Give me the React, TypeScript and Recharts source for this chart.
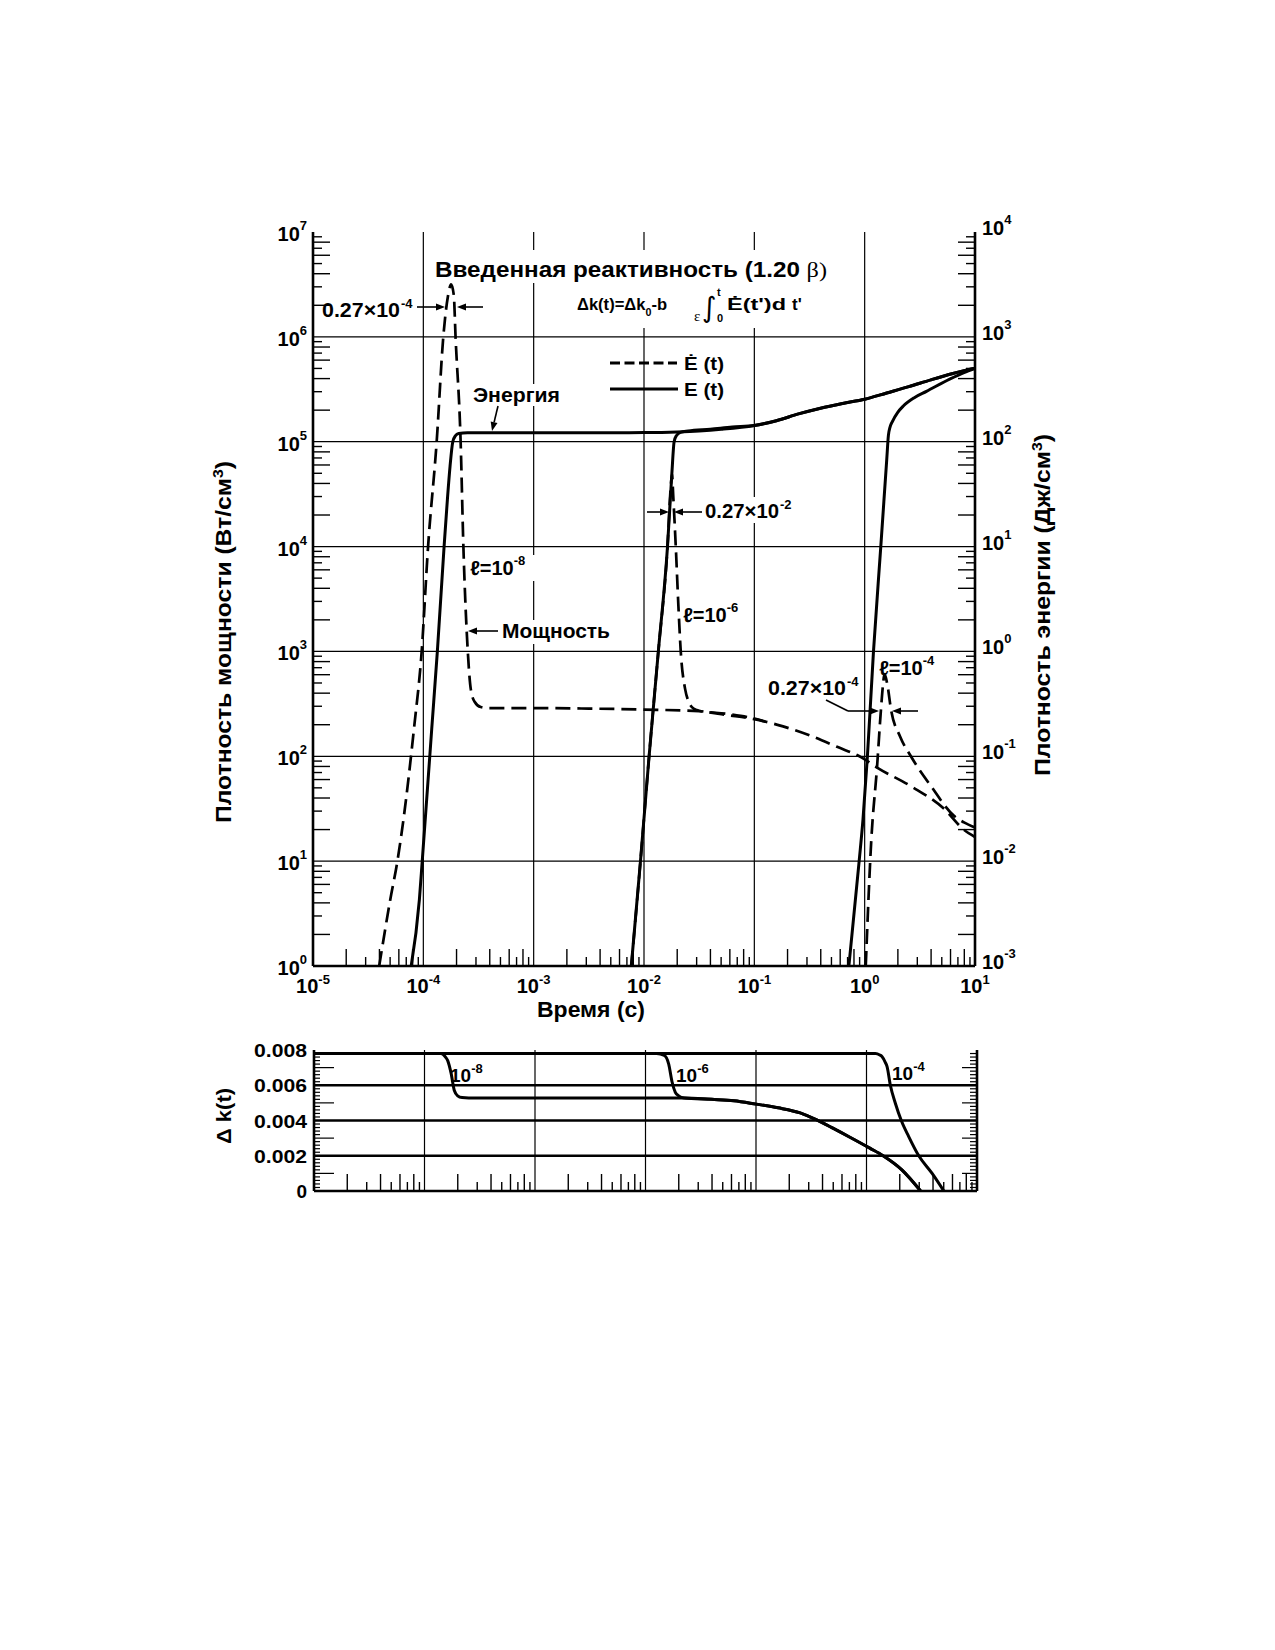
import React from 'react';
import { ComposedChart, LineChart, Line, XAxis, YAxis, ReferenceLine } from 'recharts';

const FONT = '"Liberation Sans", Arial, Helvetica, sans-serif';
const SERIF = '"Liberation Serif", "Times New Roman", serif';

// ---------- axis definitions ----------
const timeDecades = [1e-5, 1e-4, 1e-3, 1e-2, 1e-1, 1, 10];
const powerDecades = [1, 10, 100, 1e3, 1e4, 1e5, 1e6, 1e7];
const energyDecades = [1e-3, 1e-2, 1e-1, 1, 10, 100, 1e3, 1e4];
const minorMultipliers = [2, 3, 4, 5, 6, 7, 8, 9];
const timeGrid = [1e-4, 1e-3, 1e-2, 1e-1, 1];
const powerGrid = [10, 100, 1e3, 1e4, 1e5, 1e6];
const dkGrid = [0.002, 0.004, 0.006];
const dkStep = 0.0002;
const dkMax = 0.008;

// ---------- power density, W/cm3 (dashed) ----------
const powerL8 = [
  { t: 3.98e-5, v: 1 }, { t: 5.01e-5, v: 4.27 }, { t: 5.82e-5, v: 10 }, { t: 6.61e-5, v: 25.1 },
  { t: 8.22e-5, v: 182 }, { t: 9.66e-5, v: 1000 }, { t: 1.104e-4, v: 1e4 }, { t: 1.321e-4, v: 1e5 },
  { t: 1.517e-4, v: 1e6 }, { t: 1.667e-4, v: 2.4e6 }, { t: 1.786e-4, v: 3.16e6 }, { t: 1.888e-4, v: 2.51e6 },
  { t: 1.959e-4, v: 1e6 }, { t: 2.178e-4, v: 1e5 }, { t: 2.307e-4, v: 1e4 }, { t: 2.529e-4, v: 1000 },
  { t: 2.692e-4, v: 437 }, { t: 2.917e-4, v: 331 }, { t: 3.311e-4, v: 295 }, { t: 3.981e-4, v: 288 },
  { t: 1e-3, v: 288 }, { t: 3.162e-3, v: 285 }, { t: 1e-2, v: 279 }, { t: 3.162e-2, v: 269 },
  { t: 5.623e-2, v: 247 }, { t: 0.1, v: 226 }, { t: 0.1622, v: 199.5 }, { t: 0.3162, v: 158.5 },
  { t: 0.5623, v: 123 }, { t: 0.9333, v: 97.7 }, { t: 1.306, v: 77.6 }, { t: 2.606, v: 52.1 },
  { t: 5.26, v: 31.5 }, { t: 7.98, v: 19.8 }, { t: 10, v: 17 },
];
const powerL6 = [
  { t: 7.674e-3, v: 1 }, { t: 9.29e-3, v: 10 }, { t: 1.112e-2, v: 100 }, { t: 1.349e-2, v: 1000 },
  { t: 1.633e-2, v: 1e4 }, { t: 1.75e-2, v: 3.8e4 }, { t: 1.795e-2, v: 4.9e4 }, { t: 1.837e-2, v: 3.16e4 },
  { t: 1.941e-2, v: 1e4 }, { t: 2.051e-2, v: 2692 }, { t: 2.153e-2, v: 1000 }, { t: 2.36e-2, v: 437 },
  { t: 2.541e-2, v: 331 }, { t: 2.818e-2, v: 285 }, { t: 3.162e-2, v: 272 }, { t: 5.623e-2, v: 254 },
  { t: 0.1, v: 229 }, { t: 0.1259, v: 214 },
];
const powerL4 = [
  { t: 1.023, v: 1 }, { t: 1.148, v: 15.8 }, { t: 1.294, v: 78.5 }, { t: 1.406, v: 282 },
  { t: 1.472, v: 501 }, { t: 1.507, v: 603 }, { t: 1.556, v: 562 }, { t: 1.614, v: 468 },
  { t: 1.73, v: 282 }, { t: 2.089, v: 155 }, { t: 2.624, v: 100 }, { t: 3.981, v: 52.1 },
  { t: 6.486, v: 26.9 }, { t: 7.943, v: 23.4 }, { t: 10, v: 20.9 },
];

// ---------- energy density, J/cm3 (solid) ----------
const energyL8 = [
  { t: 7.762e-5, v: 0.001 }, { t: 9.204e-5, v: 0.00427 }, { t: 9.772e-5, v: 0.01 }, { t: 1.191e-4, v: 0.181 },
  { t: 1.34e-4, v: 1.0 }, { t: 1.542e-4, v: 10 }, { t: 1.652e-4, v: 28.1 }, { t: 1.746e-4, v: 58.2 },
  { t: 1.849e-4, v: 100 }, { t: 1.95e-4, v: 113.5 }, { t: 2.089e-4, v: 119.7 }, { t: 2.512e-4, v: 121.6 },
  { t: 1e-3, v: 121.6 }, { t: 3.162e-3, v: 121.6 }, { t: 1e-2, v: 122.2 }, { t: 1.995e-2, v: 123.9 },
  { t: 3.162e-2, v: 126.5 }, { t: 5.012e-2, v: 131.2 }, { t: 0.1, v: 142.9 }, { t: 0.1585, v: 158.5 },
  { t: 0.2512, v: 184.1 }, { t: 0.3981, v: 208.9 }, { t: 0.631, v: 231.7 }, { t: 1, v: 254.1 },
  { t: 1.585, v: 291.7 }, { t: 2.512, v: 335 }, { t: 3.981, v: 389 }, { t: 6.31, v: 446.7 },
  { t: 10, v: 501 },
];
const energyL6 = [
  { t: 7.674e-3, v: 0.001 }, { t: 9.29e-3, v: 0.01 }, { t: 1.112e-2, v: 0.1 }, { t: 1.349e-2, v: 1.0 },
  { t: 1.633e-2, v: 10 }, { t: 1.786e-2, v: 48.5 }, { t: 1.875e-2, v: 100 }, { t: 1.972e-2, v: 114.8 },
  { t: 2.138e-2, v: 123 }, { t: 2.512e-2, v: 126.8 }, { t: 3.981e-2, v: 131.8 }, { t: 6.31e-2, v: 138 },
  { t: 0.1, v: 142.9 }, { t: 0.1585, v: 158.5 }, { t: 0.2512, v: 184.1 }, { t: 0.3981, v: 208.9 },
  { t: 0.631, v: 231.7 }, { t: 1, v: 254.1 }, { t: 1.585, v: 291.7 }, { t: 2.512, v: 335 },
  { t: 3.981, v: 389 }, { t: 6.31, v: 446.7 }, { t: 10, v: 501 },
];
const energyL4 = [
  { t: 0.7194, v: 0.001 }, { t: 0.8913, v: 0.01 }, { t: 0.9661, v: 0.0251 }, { t: 1.059, v: 0.1 },
  { t: 1.202, v: 1.0 }, { t: 1.4, v: 10 }, { t: 1.585, v: 67.6 }, { t: 1.641, v: 114.8 },
  { t: 1.698, v: 138 }, { t: 1.778, v: 154.9 }, { t: 1.995, v: 190.5 }, { t: 2.239, v: 218.8 },
  { t: 2.818, v: 263 }, { t: 3.631, v: 302 }, { t: 5.957, v: 398 }, { t: 7.943, v: 457 },
  { t: 10, v: 501 },
];

// ---------- reactivity Δk(t) ----------
const dkL8 = [
  { t: 1e-5, v: 0.0078 }, { t: 1.413e-4, v: 0.0078 }, { t: 1.549e-4, v: 0.0076 }, { t: 1.622e-4, v: 0.0074 },
  { t: 1.738e-4, v: 0.0067 }, { t: 1.862e-4, v: 0.0057 }, { t: 1.995e-4, v: 0.0054 }, { t: 2.188e-4, v: 0.0053 },
  { t: 2.512e-4, v: 0.00528 }, { t: 1e-2, v: 0.00528 }, { t: 2.239e-2, v: 0.00528 }, { t: 3.981e-2, v: 0.0052 },
  { t: 6.31e-2, v: 0.00512 }, { t: 0.1, v: 0.00493 }, { t: 0.1585, v: 0.00472 }, { t: 0.2512, v: 0.00443 },
  { t: 0.3548, v: 0.00403 }, { t: 0.5012, v: 0.00355 }, { t: 0.7079, v: 0.00305 }, { t: 1.072, v: 0.00243 },
  { t: 1.413, v: 0.002 }, { t: 2.089, v: 0.0012 }, { t: 3.09, v: 0 },
];
const dkL6 = [
  { t: 1e-5, v: 0.0078 }, { t: 1.259e-2, v: 0.0078 }, { t: 1.479e-2, v: 0.0077 }, { t: 1.622e-2, v: 0.0072 },
  { t: 1.738e-2, v: 0.0062 }, { t: 1.862e-2, v: 0.0056 }, { t: 1.995e-2, v: 0.0054 }, { t: 2.239e-2, v: 0.00528 },
  { t: 3.981e-2, v: 0.0052 }, { t: 6.31e-2, v: 0.00512 }, { t: 0.1, v: 0.00493 }, { t: 0.1585, v: 0.00472 },
  { t: 0.2512, v: 0.00443 }, { t: 0.3548, v: 0.00403 }, { t: 0.5012, v: 0.00355 }, { t: 0.7079, v: 0.00305 },
  { t: 1.072, v: 0.00243 }, { t: 1.413, v: 0.002 }, { t: 2.089, v: 0.0012 }, { t: 3.09, v: 0 },
];
const dkL4 = [
  { t: 1e-5, v: 0.0078 }, { t: 1.202, v: 0.0078 }, { t: 1.318, v: 0.00772 }, { t: 1.38, v: 0.00763 },
  { t: 1.479, v: 0.0073 }, { t: 1.535, v: 0.00706 }, { t: 1.644, v: 0.006 }, { t: 1.824, v: 0.00498 },
  { t: 2.065, v: 0.004 }, { t: 2.41, v: 0.00309 }, { t: 2.972, v: 0.002 }, { t: 3.926, v: 0.001 },
  { t: 5.012, v: 0 },
];

// ---------- helpers ----------
function withMinors(decades: number[]) {
  const out: number[] = [];
  decades.forEach((d, i) => {
    out.push(d);
    if (i < decades.length - 1) minorMultipliers.forEach((m) => out.push(m * d));
  });
  return out;
}
function logInfo(v: number) {
  const lg = Math.log10(v);
  const e = Math.round(lg);
  if (Math.abs(lg - e) < 1e-6) return { decade: true, exp: e, mult: 1 };
  const base = Math.floor(lg + 1e-9);
  return { decade: false, exp: base, mult: Math.round(v / Math.pow(10, base)) };
}
const expStr = (e: number) => (e < 0 ? '-' + Math.abs(e) : String(e));
const minorLen = (m: number) => (m % 2 === 0 ? 17 : 9);

const timeTicks = withMinors(timeDecades);
const timeMinorTicks = timeTicks.filter((v) => !logInfo(v).decade);
const powerTicks = withMinors(powerDecades);
const energyTicks = withMinors(energyDecades);
const dkTicks = Array.from({ length: Math.round(dkMax / dkStep) + 1 }, (_, i) => Number((i * dkStep).toFixed(4)));

const TXT = { fontFamily: FONT, fontWeight: 700, fill: '#000' } as const;
const TICK_W = 1.4;

const MainBottomTick = (p: any) => {
  const { x, y, payload } = p;
  const info = logInfo(payload.value);
  if (info.decade) {
    return (
      <text x={x} y={y + 27} textAnchor="middle" fontSize={20} {...TXT}>
        10<tspan fontSize={13} dy={-9}>{expStr(info.exp)}</tspan>
      </text>
    );
  }
  return <line x1={x} y1={y} x2={x} y2={y - minorLen(info.mult)} stroke="#000" strokeWidth={TICK_W} />;
};
const TopTick = (p: any) => {
  const { x, y, payload } = p;
  const info = logInfo(payload.value);
  if (info.decade) return <g />;
  return <line x1={x} y1={y} x2={x} y2={y + minorLen(info.mult)} stroke="#000" strokeWidth={TICK_W} />;
};
const SubBottomTick = (p: any) => {
  const { x, y, payload } = p;
  const info = logInfo(payload.value);
  if (info.decade) return <g />;
  return <line x1={x} y1={y} x2={x} y2={y - minorLen(info.mult)} stroke="#000" strokeWidth={TICK_W} />;
};
const MainLeftTick = (p: any) => {
  const { x, y, payload } = p;
  const info = logInfo(payload.value);
  if (info.decade) {
    return (
      <text x={x - 6} y={y + 9} textAnchor="end" fontSize={20} {...TXT}>
        10<tspan fontSize={13} dy={-11}>{expStr(info.exp)}</tspan>
      </text>
    );
  }
  return <line x1={x} y1={y} x2={x + minorLen(info.mult)} y2={y} stroke="#000" strokeWidth={TICK_W} />;
};
const MainRightTick = (p: any) => {
  const { x, y, payload } = p;
  const info = logInfo(payload.value);
  if (info.decade) {
    return (
      <text x={x + 7} y={y + 3} textAnchor="start" fontSize={20} {...TXT}>
        10<tspan fontSize={13} dy={-11}>{expStr(info.exp)}</tspan>
      </text>
    );
  }
  return <line x1={x} y1={y} x2={x - minorLen(info.mult)} y2={y} stroke="#000" strokeWidth={TICK_W} />;
};
const SubLeftTick = (p: any) => {
  const { x, y, payload } = p;
  const i = Math.round(payload.value / dkStep);
  if (i % 10 === 0) {
    if (payload.value === 0) {
      return (
        <text x={x - 7} y={y + 7} textAnchor="end" fontSize={19} {...TXT}>
          0
        </text>
      );
    }
    return (
      <text x={x - 60} y={y + 7} fontSize={19} {...TXT} textLength={53} lengthAdjust="spacingAndGlyphs">
        {payload.value.toFixed(3)}
      </text>
    );
  }
  const len = i % 5 === 0 ? 20 : 6;
  return <line x1={x} y1={y} x2={x + len} y2={y} stroke="#000" strokeWidth={1.2} />;
};
const SubRightTick = (p: any) => {
  const { x, y, payload } = p;
  const i = Math.round(payload.value / dkStep);
  if (i % 10 === 0) return <g />;
  const len = i % 5 === 0 ? 15 : 7;
  return <line x1={x} y1={y} x2={x - len} y2={y} stroke="#000" strokeWidth={1.2} />;
};

const Arrow = ({ x1, y1, x2, y2 }: { x1: number; y1: number; x2: number; y2: number }) => {
  const dx = x2 - x1;
  const dy = y2 - y1;
  const L = Math.hypot(dx, dy);
  const ux = dx / L;
  const uy = dy / L;
  const hl = 9;
  const hw = 3.5;
  const bx = x2 - ux * hl;
  const by = y2 - uy * hl;
  const pts = `${x2},${y2} ${bx - uy * hw},${by + ux * hw} ${bx + uy * hw},${by - ux * hw}`;
  return (
    <g>
      <line x1={x1} y1={y1} x2={bx} y2={by} stroke="#000" strokeWidth={1.6} />
      <polygon points={pts} fill="#000" />
    </g>
  );
};

const SupLabel = ({ x, y, base, sup, len, size = 20, supSize = 13, dy = -9 }:
  { x: number; y: number; base: string; sup: string; len: number; size?: number; supSize?: number; dy?: number }) => (
  <g>
    <text x={x} y={y} fontSize={size} {...TXT} textLength={len} lengthAdjust="spacingAndGlyphs">{base}</text>
    <text x={x + len + 1} y={y + dy} fontSize={supSize} {...TXT}>{sup}</text>
  </g>
);

const AXIS_LINE = { stroke: '#000', strokeWidth: 2.6 };
const DASH = '15 7';

function Overlay() {
  return (
    <svg width={1275} height={1650} style={{ position: 'absolute', left: 0, top: 0, pointerEvents: 'none' }}>
      {/* title */}
      <rect x={460} y={250} width={372} height={33} fill="#fff" />
      <text x={435} y={277} fontSize={22} {...TXT} textLength={392} lengthAdjust="spacingAndGlyphs">
        Введенная реактивность (1.20 <tspan fontFamily={SERIF} fontWeight={400} fontSize={22}>β)</tspan>
      </text>
      {/* formula */}
      <rect x={570} y={283} width={242} height={45} fill="#fff" />
      <text x={577} y={310} fontSize={17} {...TXT} textLength={90} lengthAdjust="spacingAndGlyphs">
        Δk(t)=Δk<tspan fontSize={11} dy={6}>0</tspan><tspan dy={-6}>-b</tspan>
      </text>
      <text x={694} y={321} fontSize={15} fontFamily={SERIF} fill="#000">ε</text>
      <text x={702} y={317} fontSize={28} fontFamily='"DejaVu Sans", sans-serif' fill="#000">∫</text>
      <text x={717} y={296} fontSize={11} {...TXT}>t</text>
      <text x={717} y={322} fontSize={11} {...TXT}>0</text>
      <text x={727} y={310} fontSize={17} {...TXT} textLength={59} lengthAdjust="spacingAndGlyphs">Ė(t')d</text>
      <text x={792} y={310} fontSize={17} {...TXT}>t'</text>

      {/* legend */}
      <line x1={610} y1={363} x2={677} y2={363} stroke="#000" strokeWidth={3} strokeDasharray="10 4.5" />
      <text x={684} y={370} fontSize={19} {...TXT} textLength={40} lengthAdjust="spacingAndGlyphs">Ė (t)</text>
      <line x1={610} y1={389} x2={678} y2={389} stroke="#000" strokeWidth={3} />
      <text x={684} y={396} fontSize={19} {...TXT} textLength={40} lengthAdjust="spacingAndGlyphs">E (t)</text>

      {/* 0.27x10^-4 (l = 1e-8) */}
      <SupLabel x={322} y={317} base="0.27×10" sup="-4" len={78} />
      <Arrow x1={417} y1={307} x2={445} y2={307} />
      <Arrow x1={483} y1={307} x2={457} y2={307} />

      {/* Энергия */}
      <rect x={471} y={384} width={92} height={22} fill="#fff" />
      <text x={473} y={402} fontSize={20} {...TXT} textLength={87} lengthAdjust="spacingAndGlyphs">Энергия</text>
      <Arrow x1={498} y1={406} x2={492} y2={431} />

      {/* l = 1e-8 */}
      <rect x={468} y={555} width={70} height={26} fill="#fff" />
      <text x={470} y={575} fontSize={20} {...TXT}>
        ℓ=10<tspan fontSize={13} dy={-10}>-8</tspan>
      </text>

      {/* Мощность */}
      <rect x={500} y={620} width={112} height={24} fill="#fff" />
      <text x={502} y={638} fontSize={20} {...TXT} textLength={108} lengthAdjust="spacingAndGlyphs">Мощность</text>
      <Arrow x1={498} y1={631} x2={468} y2={631} />

      {/* 0.27x10^-2 */}
      <rect x={703} y={497} width={95} height={26} fill="#fff" />
      <SupLabel x={705} y={518} base="0.27×10" sup="-2" len={74} />
      <Arrow x1={647} y1={512} x2={669} y2={512} />
      <Arrow x1={702} y1={512} x2={674} y2={512} />

      {/* l = 1e-6 */}
      <text x={683} y={622} fontSize={20} {...TXT}>
        ℓ=10<tspan fontSize={13} dy={-10}>-6</tspan>
      </text>

      {/* 0.27x10^-4 (l = 1e-4) */}
      <SupLabel x={768} y={695} base="0.27×10" sup="-4" len={78} />
      <polyline points="826,700 848,711" fill="none" stroke="#000" strokeWidth={1.6} />
      <Arrow x1={848} y1={711} x2={879} y2={711} />
      <Arrow x1={918} y1={711} x2={892} y2={711} />

      {/* l = 1e-4 */}
      <text x={879} y={675} fontSize={20} {...TXT}>
        ℓ=10<tspan fontSize={13} dy={-10}>-4</tspan>
      </text>

      {/* axis titles */}
      <text transform="translate(223,642) rotate(-90)" x={-181} y={8} fontSize={22} {...TXT} textLength={362} lengthAdjust="spacingAndGlyphs">
        Плотность мощности (Вт/см<tspan fontSize={14} dy={-8}>3</tspan><tspan dy={8}>)</tspan>
      </text>
      <text transform="translate(1042,605) rotate(-90)" x={-171} y={8} fontSize={22} {...TXT} textLength={342} lengthAdjust="spacingAndGlyphs">
        Плотность энергии (Дж/см<tspan fontSize={14} dy={-8}>3</tspan><tspan dy={8}>)</tspan>
      </text>
      <text x={537} y={1017} fontSize={22} {...TXT} textLength={108} lengthAdjust="spacingAndGlyphs">Время (с)</text>
      <text transform="translate(223,1116) rotate(-90)" x={-28} y={8} fontSize={21} {...TXT} textLength={56} lengthAdjust="spacingAndGlyphs">
        Δ k(t)
      </text>

      {/* subplot labels */}
      <text x={450} y={1082} fontSize={19} {...TXT}>
        10<tspan fontSize={13} dy={-9}>-8</tspan>
      </text>
      <text x={676} y={1082} fontSize={19} {...TXT}>
        10<tspan fontSize={13} dy={-9}>-6</tspan>
      </text>
      <text x={892} y={1080} fontSize={19} {...TXT}>
        10<tspan fontSize={13} dy={-9}>-4</tspan>
      </text>
    </svg>
  );
}

function MainChart() {
  return (
    <ComposedChart width={1275} height={1040} margin={{ top: 232, right: 0, bottom: 0, left: 0 }}>
      <XAxis
        xAxisId="b" dataKey="t" type="number" scale="log" domain={[1e-5, 10]} allowDataOverflow
        ticks={timeTicks} interval={0} tick={MainBottomTick} tickSize={0} tickMargin={0} tickLine={false}
        axisLine={AXIS_LINE} height={74}
      />
      <XAxis
        xAxisId="t" orientation="top" dataKey="t" type="number" scale="log" domain={[1e-5, 10]} allowDataOverflow
        ticks={timeMinorTicks} interval={0} tick={TopTick} tickSize={0} tickMargin={0} tickLine={false}
        axisLine={AXIS_LINE} height={0}
      />
      <YAxis
        yAxisId="l" orientation="left" type="number" scale="log" domain={[1, 1e7]} allowDataOverflow
        ticks={powerTicks} interval={0} tick={MainLeftTick} tickSize={0} tickMargin={0} tickLine={false}
        axisLine={AXIS_LINE} width={313}
      />
      <YAxis
        yAxisId="r" orientation="right" type="number" scale="log" domain={[1e-3, 1e4]} allowDataOverflow
        ticks={energyTicks} interval={0} tick={MainRightTick} tickSize={0} tickMargin={0} tickLine={false}
        axisLine={AXIS_LINE} width={300}
      />
      {powerGrid.map((v) => (
        <ReferenceLine key={'h' + v} xAxisId="b" yAxisId="l" y={v} stroke="#000" strokeWidth={1.2} />
      ))}
      {timeGrid.map((v) => (
        <ReferenceLine key={'v' + v} xAxisId="b" yAxisId="l" x={v} stroke="#000" strokeWidth={1.2} />
      ))}
      <Line xAxisId="b" yAxisId="l" data={powerL6} dataKey="v" type="monotone" stroke="#000" strokeWidth={2.7} strokeDasharray={DASH} dot={false} isAnimationActive={false} />
      <Line xAxisId="b" yAxisId="l" data={powerL8} dataKey="v" type="monotone" stroke="#000" strokeWidth={2.7} strokeDasharray={DASH} dot={false} isAnimationActive={false} />
      <Line xAxisId="b" yAxisId="l" data={powerL4} dataKey="v" type="monotone" stroke="#000" strokeWidth={2.7} strokeDasharray={DASH} dot={false} isAnimationActive={false} />
      <Line xAxisId="b" yAxisId="r" data={energyL8} dataKey="v" type="monotone" stroke="#000" strokeWidth={3} dot={false} isAnimationActive={false} />
      <Line xAxisId="b" yAxisId="r" data={energyL6} dataKey="v" type="monotone" stroke="#000" strokeWidth={3} dot={false} isAnimationActive={false} />
      <Line xAxisId="b" yAxisId="r" data={energyL4} dataKey="v" type="monotone" stroke="#000" strokeWidth={3} dot={false} isAnimationActive={false} />
    </ComposedChart>
  );
}

function SubChart() {
  return (
    <LineChart width={1275} height={230} margin={{ top: 50, right: 0, bottom: 0, left: 0 }}>
      <XAxis
        xAxisId="b" dataKey="t" type="number" scale="log" domain={[1e-5, 10]} allowDataOverflow
        ticks={timeMinorTicks} interval={0} tick={SubBottomTick} tickSize={0} tickMargin={0} tickLine={false}
        axisLine={AXIS_LINE} height={39}
      />
      <XAxis
        xAxisId="t" orientation="top" dataKey="t" type="number" scale="log" domain={[1e-5, 10]} allowDataOverflow
        ticks={timeMinorTicks} interval={0} tick={TopTick} tickSize={0} tickMargin={0} tickLine={false}
        axisLine={AXIS_LINE} height={0}
      />
      <YAxis
        yAxisId="l" orientation="left" type="number" domain={[0, dkMax]} allowDataOverflow
        ticks={dkTicks} interval={0} tick={SubLeftTick} tickSize={0} tickMargin={0} tickLine={false}
        axisLine={AXIS_LINE} width={314}
      />
      <YAxis
        yAxisId="r" orientation="right" type="number" domain={[0, dkMax]} allowDataOverflow
        ticks={dkTicks} interval={0} tick={SubRightTick} tickSize={0} tickMargin={0} tickLine={false}
        axisLine={AXIS_LINE} width={298}
      />
      {dkGrid.map((v) => (
        <ReferenceLine key={'h' + v} xAxisId="b" yAxisId="l" y={v} stroke="#000" strokeWidth={2.6} />
      ))}
      {timeGrid.map((v) => (
        <ReferenceLine key={'v' + v} xAxisId="b" yAxisId="l" x={v} stroke="#000" strokeWidth={1.2} />
      ))}
      <Line xAxisId="b" yAxisId="l" data={dkL8} dataKey="v" type="monotone" stroke="#000" strokeWidth={3} dot={false} isAnimationActive={false} />
      <Line xAxisId="b" yAxisId="l" data={dkL6} dataKey="v" type="monotone" stroke="#000" strokeWidth={3} dot={false} isAnimationActive={false} />
      <Line xAxisId="b" yAxisId="l" data={dkL4} dataKey="v" type="monotone" stroke="#000" strokeWidth={3} dot={false} isAnimationActive={false} />
    </LineChart>
  );
}

export default function App() {
  return (
    <div style={{ position: 'absolute', left: 0, top: 0, width: 1275, height: 1650, background: '#fff' }}>
      <div style={{ position: 'absolute', left: 0, top: 0 }}>
        <MainChart />
      </div>
      <div style={{ position: 'absolute', left: 0, top: 1000 }}>
        <SubChart />
      </div>
      <Overlay />
    </div>
  );
}
